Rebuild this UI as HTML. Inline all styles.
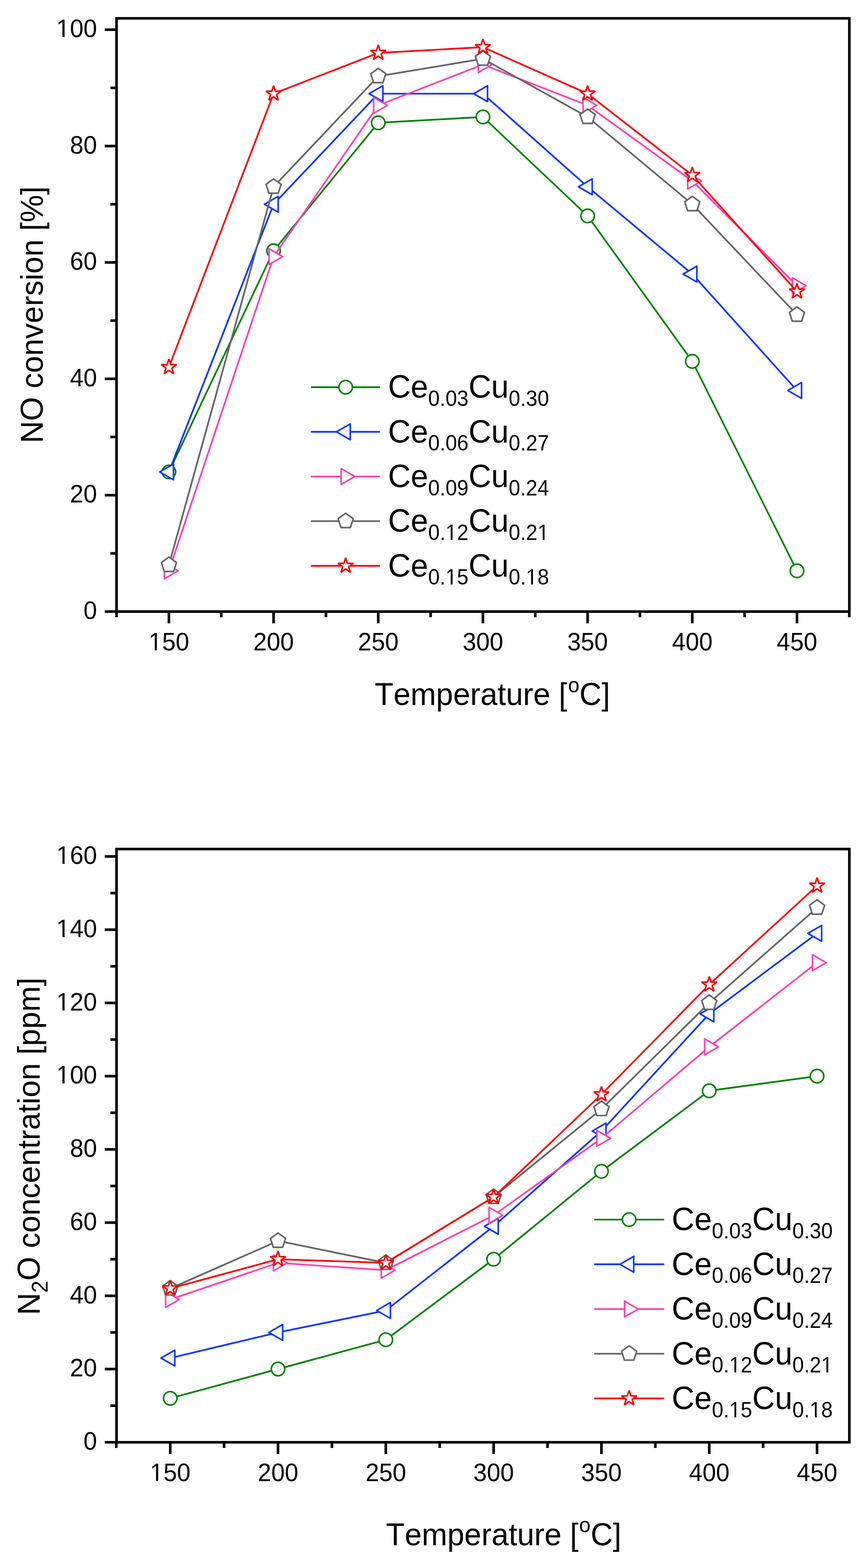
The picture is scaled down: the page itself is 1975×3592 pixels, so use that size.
<!DOCTYPE html>
<html><head><meta charset="utf-8"><title>NO conversion and N2O concentration</title>
<style>html,body{margin:0;padding:0;background:#fff;}svg{display:block;}text{font-kerning:none;font-feature-settings:'kern' 0;}</style></head>
<body>
<svg width="1975" height="3592" viewBox="0 0 1975 3592" font-family="'Liberation Sans', Arial, sans-serif" fill="#000">
<rect width="1975" height="3592" fill="#fff"/>
<polyline points="387.00,1081.08 626.83,574.54 866.67,281.28 1106.50,267.95 1346.33,494.56 1586.17,827.81 1826.00,1307.69" fill="none" stroke="#008000" stroke-width="3.9" stroke-linejoin="round" stroke-linecap="round"/>
<circle cx="387.00" cy="1081.08" r="15.4" fill="#fff" stroke="#008000" stroke-width="3.6" stroke-linejoin="miter"/>
<circle cx="626.83" cy="574.54" r="15.4" fill="#fff" stroke="#008000" stroke-width="3.6" stroke-linejoin="miter"/>
<circle cx="866.67" cy="281.28" r="15.4" fill="#fff" stroke="#008000" stroke-width="3.6" stroke-linejoin="miter"/>
<circle cx="1106.50" cy="267.95" r="15.4" fill="#fff" stroke="#008000" stroke-width="3.6" stroke-linejoin="miter"/>
<circle cx="1346.33" cy="494.56" r="15.4" fill="#fff" stroke="#008000" stroke-width="3.6" stroke-linejoin="miter"/>
<circle cx="1586.17" cy="827.81" r="15.4" fill="#fff" stroke="#008000" stroke-width="3.6" stroke-linejoin="miter"/>
<circle cx="1826.00" cy="1307.69" r="15.4" fill="#fff" stroke="#008000" stroke-width="3.6" stroke-linejoin="miter"/>
<polyline points="387.00,1081.08 626.83,467.90 866.67,214.63 1106.50,214.63 1346.33,427.91 1586.17,627.86 1826.00,894.46" fill="none" stroke="#0A34FF" stroke-width="3.9" stroke-linejoin="round" stroke-linecap="round"/>
<polygon points="366.00,1081.08 397.50,1062.89 397.50,1099.27" fill="#fff" stroke="#0A34FF" stroke-width="3.6" stroke-linejoin="round"/>
<polygon points="605.83,467.90 637.33,449.71 637.33,486.09" fill="#fff" stroke="#0A34FF" stroke-width="3.6" stroke-linejoin="round"/>
<polygon points="845.67,214.63 877.17,196.44 877.17,232.82" fill="#fff" stroke="#0A34FF" stroke-width="3.6" stroke-linejoin="round"/>
<polygon points="1085.50,214.63 1117.00,196.44 1117.00,232.82" fill="#fff" stroke="#0A34FF" stroke-width="3.6" stroke-linejoin="round"/>
<polygon points="1325.33,427.91 1356.83,409.72 1356.83,446.10" fill="#fff" stroke="#0A34FF" stroke-width="3.6" stroke-linejoin="round"/>
<polygon points="1565.17,627.86 1596.67,609.67 1596.67,646.05" fill="#fff" stroke="#0A34FF" stroke-width="3.6" stroke-linejoin="round"/>
<polygon points="1805.00,894.46 1836.50,876.27 1836.50,912.65" fill="#fff" stroke="#0A34FF" stroke-width="3.6" stroke-linejoin="round"/>
<polyline points="387.00,1307.69 626.83,587.87 866.67,241.29 1106.50,147.98 1346.33,241.29 1586.17,414.58 1826.00,654.52" fill="none" stroke="#FF40B0" stroke-width="3.9" stroke-linejoin="round" stroke-linecap="round"/>
<polygon points="408.00,1307.69 376.50,1289.50 376.50,1325.88" fill="#fff" stroke="#FF40B0" stroke-width="3.6" stroke-linejoin="round"/>
<polygon points="647.83,587.87 616.33,569.68 616.33,606.06" fill="#fff" stroke="#FF40B0" stroke-width="3.6" stroke-linejoin="round"/>
<polygon points="887.67,241.29 856.17,223.10 856.17,259.48" fill="#fff" stroke="#FF40B0" stroke-width="3.6" stroke-linejoin="round"/>
<polygon points="1127.50,147.98 1096.00,129.79 1096.00,166.17" fill="#fff" stroke="#FF40B0" stroke-width="3.6" stroke-linejoin="round"/>
<polygon points="1367.33,241.29 1335.83,223.10 1335.83,259.48" fill="#fff" stroke="#FF40B0" stroke-width="3.6" stroke-linejoin="round"/>
<polygon points="1607.17,414.58 1575.67,396.39 1575.67,432.77" fill="#fff" stroke="#FF40B0" stroke-width="3.6" stroke-linejoin="round"/>
<polygon points="1847.00,654.52 1815.50,636.33 1815.50,672.71" fill="#fff" stroke="#FF40B0" stroke-width="3.6" stroke-linejoin="round"/>
<polyline points="387.00,1294.36 626.83,427.91 866.67,174.64 1106.50,134.65 1346.33,267.95 1586.17,467.90 1826.00,721.17" fill="none" stroke="#646464" stroke-width="3.9" stroke-linejoin="round" stroke-linecap="round"/>
<polygon points="387.00,1276.16 404.31,1288.74 397.70,1309.08 376.30,1309.08 369.69,1288.74" fill="#fff" stroke="#646464" stroke-width="3.6" stroke-linejoin="round"/>
<polygon points="626.83,409.71 644.14,422.29 637.53,442.63 616.14,442.63 609.52,422.29" fill="#fff" stroke="#646464" stroke-width="3.6" stroke-linejoin="round"/>
<polygon points="866.67,156.44 883.98,169.02 877.36,189.36 855.97,189.36 849.36,169.02" fill="#fff" stroke="#646464" stroke-width="3.6" stroke-linejoin="round"/>
<polygon points="1106.50,116.45 1123.81,129.03 1117.20,149.37 1095.80,149.37 1089.19,129.03" fill="#fff" stroke="#646464" stroke-width="3.6" stroke-linejoin="round"/>
<polygon points="1346.33,249.75 1363.64,262.33 1357.03,282.67 1335.64,282.67 1329.02,262.33" fill="#fff" stroke="#646464" stroke-width="3.6" stroke-linejoin="round"/>
<polygon points="1586.17,449.70 1603.48,462.28 1596.86,482.62 1575.47,482.62 1568.86,462.28" fill="#fff" stroke="#646464" stroke-width="3.6" stroke-linejoin="round"/>
<polygon points="1826.00,702.97 1843.31,715.55 1836.70,735.89 1815.30,735.89 1808.69,715.55" fill="#fff" stroke="#646464" stroke-width="3.6" stroke-linejoin="round"/>
<polyline points="387.00,841.14 626.83,214.63 866.67,121.32 1106.50,107.99 1346.33,214.63 1586.17,401.25 1826.00,667.85" fill="none" stroke="#FF0000" stroke-width="3.9" stroke-linejoin="round" stroke-linecap="round"/>
<polygon points="387.00,822.64 391.15,835.42 404.59,835.42 393.72,843.32 397.87,856.11 387.00,848.21 376.13,856.11 380.28,843.32 369.41,835.42 382.85,835.42" fill="#fff" stroke="#FF0000" stroke-width="3.6" stroke-linejoin="bevel"/>
<polygon points="626.83,196.13 630.99,208.91 644.43,208.91 633.55,216.81 637.71,229.60 626.83,221.70 615.96,229.60 620.11,216.81 609.24,208.91 622.68,208.91" fill="#fff" stroke="#FF0000" stroke-width="3.6" stroke-linejoin="bevel"/>
<polygon points="866.67,102.82 870.82,115.60 884.26,115.60 873.39,123.50 877.54,136.29 866.67,128.39 855.79,136.29 859.95,123.50 849.07,115.60 862.51,115.60" fill="#fff" stroke="#FF0000" stroke-width="3.6" stroke-linejoin="bevel"/>
<polygon points="1106.50,89.49 1110.65,102.27 1124.09,102.27 1113.22,110.17 1117.37,122.96 1106.50,115.06 1095.63,122.96 1099.78,110.17 1088.91,102.27 1102.35,102.27" fill="#fff" stroke="#FF0000" stroke-width="3.6" stroke-linejoin="bevel"/>
<polygon points="1346.33,196.13 1350.49,208.91 1363.93,208.91 1353.05,216.81 1357.21,229.60 1346.33,221.70 1335.46,229.60 1339.61,216.81 1328.74,208.91 1342.18,208.91" fill="#fff" stroke="#FF0000" stroke-width="3.6" stroke-linejoin="bevel"/>
<polygon points="1586.17,382.75 1590.32,395.53 1603.76,395.53 1592.89,403.43 1597.04,416.22 1586.17,408.32 1575.29,416.22 1579.45,403.43 1568.57,395.53 1582.01,395.53" fill="#fff" stroke="#FF0000" stroke-width="3.6" stroke-linejoin="bevel"/>
<polygon points="1826.00,649.35 1830.15,662.13 1843.59,662.13 1832.72,670.03 1836.87,682.82 1826.00,674.92 1815.13,682.82 1819.28,670.03 1808.41,662.13 1821.85,662.13" fill="#fff" stroke="#FF0000" stroke-width="3.6" stroke-linejoin="bevel"/>
<rect x="267" y="42" width="1679" height="1359" fill="none" stroke="#000" stroke-width="6" stroke-linejoin="miter"/>
<line x1="240.0" y1="1401.00" x2="267" y2="1401.00" stroke="#000" stroke-width="6"/>
<g transform="translate(222.2,1418.00) scale(1,1.035)"><text text-anchor="end" font-size="55.8">0</text></g>
<line x1="240.0" y1="1134.40" x2="267" y2="1134.40" stroke="#000" stroke-width="6"/>
<g transform="translate(222.2,1151.40) scale(1,1.035)"><text text-anchor="end" font-size="55.8">20</text></g>
<line x1="240.0" y1="867.80" x2="267" y2="867.80" stroke="#000" stroke-width="6"/>
<g transform="translate(222.2,884.80) scale(1,1.035)"><text text-anchor="end" font-size="55.8">40</text></g>
<line x1="240.0" y1="601.20" x2="267" y2="601.20" stroke="#000" stroke-width="6"/>
<g transform="translate(222.2,618.20) scale(1,1.035)"><text text-anchor="end" font-size="55.8">60</text></g>
<line x1="240.0" y1="334.60" x2="267" y2="334.60" stroke="#000" stroke-width="6"/>
<g transform="translate(222.2,351.60) scale(1,1.035)"><text text-anchor="end" font-size="55.8">80</text></g>
<line x1="240.0" y1="68.00" x2="267" y2="68.00" stroke="#000" stroke-width="6"/>
<g transform="translate(222.2,85.00) scale(1,1.035)"><text text-anchor="end" font-size="55.8">100</text><rect x="-90.02" y="-4.87" width="11.03" height="6.47" fill="#fff"/><rect x="-74.16" y="-4.87" width="10.60" height="6.47" fill="#fff"/></g>
<line x1="253.0" y1="1267.70" x2="267" y2="1267.70" stroke="#000" stroke-width="6"/>
<line x1="253.0" y1="1001.10" x2="267" y2="1001.10" stroke="#000" stroke-width="6"/>
<line x1="253.0" y1="734.50" x2="267" y2="734.50" stroke="#000" stroke-width="6"/>
<line x1="253.0" y1="467.90" x2="267" y2="467.90" stroke="#000" stroke-width="6"/>
<line x1="253.0" y1="201.30" x2="267" y2="201.30" stroke="#000" stroke-width="6"/>
<line x1="387.00" y1="1401" x2="387.00" y2="1428.0" stroke="#000" stroke-width="6"/>
<g transform="translate(387.00,1490.00) scale(1,1.035)"><text text-anchor="middle" font-size="55.8">150</text><rect x="-43.49" y="-4.87" width="11.03" height="6.47" fill="#fff"/><rect x="-27.62" y="-4.87" width="10.60" height="6.47" fill="#fff"/></g>
<line x1="626.83" y1="1401" x2="626.83" y2="1428.0" stroke="#000" stroke-width="6"/>
<g transform="translate(626.83,1490.00) scale(1,1.035)"><text text-anchor="middle" font-size="55.8">200</text></g>
<line x1="866.67" y1="1401" x2="866.67" y2="1428.0" stroke="#000" stroke-width="6"/>
<g transform="translate(866.67,1490.00) scale(1,1.035)"><text text-anchor="middle" font-size="55.8">250</text></g>
<line x1="1106.50" y1="1401" x2="1106.50" y2="1428.0" stroke="#000" stroke-width="6"/>
<g transform="translate(1106.50,1490.00) scale(1,1.035)"><text text-anchor="middle" font-size="55.8">300</text></g>
<line x1="1346.33" y1="1401" x2="1346.33" y2="1428.0" stroke="#000" stroke-width="6"/>
<g transform="translate(1346.33,1490.00) scale(1,1.035)"><text text-anchor="middle" font-size="55.8">350</text></g>
<line x1="1586.17" y1="1401" x2="1586.17" y2="1428.0" stroke="#000" stroke-width="6"/>
<g transform="translate(1586.17,1490.00) scale(1,1.035)"><text text-anchor="middle" font-size="55.8">400</text></g>
<line x1="1826.00" y1="1401" x2="1826.00" y2="1428.0" stroke="#000" stroke-width="6"/>
<g transform="translate(1826.00,1490.00) scale(1,1.035)"><text text-anchor="middle" font-size="55.8">450</text></g>
<line x1="267.08" y1="1401" x2="267.08" y2="1414.0" stroke="#000" stroke-width="6"/>
<line x1="506.92" y1="1401" x2="506.92" y2="1414.0" stroke="#000" stroke-width="6"/>
<line x1="746.75" y1="1401" x2="746.75" y2="1414.0" stroke="#000" stroke-width="6"/>
<line x1="986.58" y1="1401" x2="986.58" y2="1414.0" stroke="#000" stroke-width="6"/>
<line x1="1226.42" y1="1401" x2="1226.42" y2="1414.0" stroke="#000" stroke-width="6"/>
<line x1="1466.25" y1="1401" x2="1466.25" y2="1414.0" stroke="#000" stroke-width="6"/>
<line x1="1706.08" y1="1401" x2="1706.08" y2="1414.0" stroke="#000" stroke-width="6"/>
<line x1="1945.92" y1="1401" x2="1945.92" y2="1414.0" stroke="#000" stroke-width="6"/>
<text transform="translate(858.5,1615) scale(1,1.04)" font-size="70.3">Temperature [<tspan font-size="47" dx="1.5" dy="-28">o</tspan><tspan dy="28">C]</tspan></text>
<text transform="translate(98,721) rotate(-90) scale(1,1.035)" text-anchor="middle" font-size="70.6">NO conversion [%]</text>
<line x1="713.9" y1="887.00" x2="869.1" y2="887.00" stroke="#008000" stroke-width="3.9" stroke-linecap="round"/>
<circle cx="792.00" cy="887.00" r="15.4" fill="#fff" stroke="#008000" stroke-width="3.6" stroke-linejoin="miter"/>
<g transform="translate(889,911.40) scale(1,1.04)"><text font-size="72">Ce<tspan font-size="47.5" dy="18">0.03</tspan><tspan dy="-18">Cu</tspan><tspan font-size="47.5" dy="18">0.30</tspan></text></g>
<line x1="713.9" y1="989.30" x2="869.1" y2="989.30" stroke="#0A34FF" stroke-width="3.9" stroke-linecap="round"/>
<polygon points="771.00,989.30 802.50,971.11 802.50,1007.49" fill="#fff" stroke="#0A34FF" stroke-width="3.6" stroke-linejoin="round"/>
<g transform="translate(889,1013.70) scale(1,1.04)"><text font-size="72">Ce<tspan font-size="47.5" dy="18">0.06</tspan><tspan dy="-18">Cu</tspan><tspan font-size="47.5" dy="18">0.27</tspan></text></g>
<line x1="713.9" y1="1091.60" x2="869.1" y2="1091.60" stroke="#FF40B0" stroke-width="3.9" stroke-linecap="round"/>
<polygon points="813.00,1091.60 781.50,1073.41 781.50,1109.79" fill="#fff" stroke="#FF40B0" stroke-width="3.6" stroke-linejoin="round"/>
<g transform="translate(889,1116.00) scale(1,1.04)"><text font-size="72">Ce<tspan font-size="47.5" dy="18">0.09</tspan><tspan dy="-18">Cu</tspan><tspan font-size="47.5" dy="18">0.24</tspan></text></g>
<line x1="713.9" y1="1193.90" x2="869.1" y2="1193.90" stroke="#646464" stroke-width="3.9" stroke-linecap="round"/>
<polygon points="792.00,1175.70 809.31,1188.28 802.70,1208.62 781.30,1208.62 774.69,1188.28" fill="#fff" stroke="#646464" stroke-width="3.6" stroke-linejoin="round"/>
<g transform="translate(889,1218.30) scale(1,1.04)"><text font-size="72">Ce<tspan font-size="47.5" dy="18">0.12</tspan><tspan dy="-18">Cu</tspan><tspan font-size="47.5" dy="18">0.21</tspan></text><rect x="134.05" y="13.75" width="9.58" height="5.85" fill="#fff"/><rect x="147.72" y="13.75" width="9.21" height="5.85" fill="#fff"/><rect x="344.91" y="13.75" width="9.58" height="5.85" fill="#fff"/><rect x="358.58" y="13.75" width="9.21" height="5.85" fill="#fff"/></g>
<line x1="713.9" y1="1296.20" x2="869.1" y2="1296.20" stroke="#FF0000" stroke-width="3.9" stroke-linecap="round"/>
<polygon points="792.00,1277.70 796.15,1290.48 809.59,1290.48 798.72,1298.38 802.87,1311.17 792.00,1303.27 781.13,1311.17 785.28,1298.38 774.41,1290.48 787.85,1290.48" fill="#fff" stroke="#FF0000" stroke-width="3.6" stroke-linejoin="bevel"/>
<g transform="translate(889,1320.60) scale(1,1.04)"><text font-size="72">Ce<tspan font-size="47.5" dy="18">0.15</tspan><tspan dy="-18">Cu</tspan><tspan font-size="47.5" dy="18">0.18</tspan></text><rect x="134.05" y="13.75" width="9.58" height="5.85" fill="#fff"/><rect x="147.72" y="13.75" width="9.21" height="5.85" fill="#fff"/><rect x="318.50" y="13.75" width="9.58" height="5.85" fill="#fff"/><rect x="332.17" y="13.75" width="9.21" height="5.85" fill="#fff"/></g>
<polyline points="390.00,3203.35 637.00,3136.25 884.00,3069.15 1131.00,2884.62 1378.00,2683.32 1625.00,2498.80 1872.00,2465.25" fill="none" stroke="#008000" stroke-width="3.9" stroke-linejoin="round" stroke-linecap="round"/>
<circle cx="390.00" cy="3203.35" r="15.4" fill="#fff" stroke="#008000" stroke-width="3.6" stroke-linejoin="miter"/>
<circle cx="637.00" cy="3136.25" r="15.4" fill="#fff" stroke="#008000" stroke-width="3.6" stroke-linejoin="miter"/>
<circle cx="884.00" cy="3069.15" r="15.4" fill="#fff" stroke="#008000" stroke-width="3.6" stroke-linejoin="miter"/>
<circle cx="1131.00" cy="2884.62" r="15.4" fill="#fff" stroke="#008000" stroke-width="3.6" stroke-linejoin="miter"/>
<circle cx="1378.00" cy="2683.32" r="15.4" fill="#fff" stroke="#008000" stroke-width="3.6" stroke-linejoin="miter"/>
<circle cx="1625.00" cy="2498.80" r="15.4" fill="#fff" stroke="#008000" stroke-width="3.6" stroke-linejoin="miter"/>
<circle cx="1872.00" cy="2465.25" r="15.4" fill="#fff" stroke="#008000" stroke-width="3.6" stroke-linejoin="miter"/>
<polyline points="390.00,3111.09 637.00,3052.38 884.00,3002.05 1131.00,2809.14 1378.00,2591.06 1625.00,2322.66 1872.00,2138.14" fill="none" stroke="#0A34FF" stroke-width="3.9" stroke-linejoin="round" stroke-linecap="round"/>
<polygon points="369.00,3111.09 400.50,3092.90 400.50,3129.27" fill="#fff" stroke="#0A34FF" stroke-width="3.6" stroke-linejoin="round"/>
<polygon points="616.00,3052.38 647.50,3034.19 647.50,3070.56" fill="#fff" stroke="#0A34FF" stroke-width="3.6" stroke-linejoin="round"/>
<polygon points="863.00,3002.05 894.50,2983.86 894.50,3020.24" fill="#fff" stroke="#0A34FF" stroke-width="3.6" stroke-linejoin="round"/>
<polygon points="1110.00,2809.14 1141.50,2790.95 1141.50,2827.32" fill="#fff" stroke="#0A34FF" stroke-width="3.6" stroke-linejoin="round"/>
<polygon points="1357.00,2591.06 1388.50,2572.88 1388.50,2609.25" fill="#fff" stroke="#0A34FF" stroke-width="3.6" stroke-linejoin="round"/>
<polygon points="1604.00,2322.66 1635.50,2304.48 1635.50,2340.85" fill="#fff" stroke="#0A34FF" stroke-width="3.6" stroke-linejoin="round"/>
<polygon points="1851.00,2138.14 1882.50,2119.95 1882.50,2156.32" fill="#fff" stroke="#0A34FF" stroke-width="3.6" stroke-linejoin="round"/>
<polyline points="390.00,2976.89 637.00,2893.01 884.00,2909.79 1131.00,2783.97 1378.00,2607.84 1625.00,2398.15 1872.00,2205.24" fill="none" stroke="#FF40B0" stroke-width="3.9" stroke-linejoin="round" stroke-linecap="round"/>
<polygon points="411.00,2976.89 379.50,2958.70 379.50,2995.07" fill="#fff" stroke="#FF40B0" stroke-width="3.6" stroke-linejoin="round"/>
<polygon points="658.00,2893.01 626.50,2874.83 626.50,2911.20" fill="#fff" stroke="#FF40B0" stroke-width="3.6" stroke-linejoin="round"/>
<polygon points="905.00,2909.79 873.50,2891.60 873.50,2927.97" fill="#fff" stroke="#FF40B0" stroke-width="3.6" stroke-linejoin="round"/>
<polygon points="1152.00,2783.97 1120.50,2765.79 1120.50,2802.16" fill="#fff" stroke="#FF40B0" stroke-width="3.6" stroke-linejoin="round"/>
<polygon points="1399.00,2607.84 1367.50,2589.65 1367.50,2626.02" fill="#fff" stroke="#FF40B0" stroke-width="3.6" stroke-linejoin="round"/>
<polygon points="1646.00,2398.15 1614.50,2379.96 1614.50,2416.34" fill="#fff" stroke="#FF40B0" stroke-width="3.6" stroke-linejoin="round"/>
<polygon points="1893.00,2205.24 1861.50,2187.05 1861.50,2223.42" fill="#fff" stroke="#FF40B0" stroke-width="3.6" stroke-linejoin="round"/>
<polyline points="390.00,2951.72 637.00,2842.69 884.00,2893.01 1131.00,2742.04 1378.00,2540.74 1625.00,2297.50 1872.00,2079.43" fill="none" stroke="#646464" stroke-width="3.9" stroke-linejoin="round" stroke-linecap="round"/>
<polygon points="390.00,2933.53 407.31,2946.10 400.70,2966.45 379.30,2966.45 372.69,2946.10" fill="#fff" stroke="#646464" stroke-width="3.6" stroke-linejoin="round"/>
<polygon points="637.00,2824.49 654.31,2837.06 647.70,2857.41 626.30,2857.41 619.69,2837.06" fill="#fff" stroke="#646464" stroke-width="3.6" stroke-linejoin="round"/>
<polygon points="884.00,2874.81 901.31,2887.39 894.70,2907.74 873.30,2907.74 866.69,2887.39" fill="#fff" stroke="#646464" stroke-width="3.6" stroke-linejoin="round"/>
<polygon points="1131.00,2723.84 1148.31,2736.41 1141.70,2756.76 1120.30,2756.76 1113.69,2736.41" fill="#fff" stroke="#646464" stroke-width="3.6" stroke-linejoin="round"/>
<polygon points="1378.00,2522.54 1395.31,2535.11 1388.70,2555.46 1367.30,2555.46 1360.69,2535.11" fill="#fff" stroke="#646464" stroke-width="3.6" stroke-linejoin="round"/>
<polygon points="1625.00,2279.30 1642.31,2291.88 1635.70,2312.22 1614.30,2312.22 1607.69,2291.88" fill="#fff" stroke="#646464" stroke-width="3.6" stroke-linejoin="round"/>
<polygon points="1872.00,2061.23 1889.31,2073.80 1882.70,2094.15 1861.30,2094.15 1854.69,2073.80" fill="#fff" stroke="#646464" stroke-width="3.6" stroke-linejoin="round"/>
<polyline points="390.00,2951.72 637.00,2884.62 884.00,2893.01 1131.00,2742.04 1378.00,2507.19 1625.00,2255.56 1872.00,2029.10" fill="none" stroke="#FF0000" stroke-width="3.9" stroke-linejoin="round" stroke-linecap="round"/>
<polygon points="390.00,2933.22 394.15,2946.01 407.59,2946.01 396.72,2953.91 400.87,2966.69 390.00,2958.79 379.13,2966.69 383.28,2953.91 372.41,2946.01 385.85,2946.01" fill="#fff" stroke="#FF0000" stroke-width="3.6" stroke-linejoin="bevel"/>
<polygon points="637.00,2866.12 641.15,2878.91 654.59,2878.91 643.72,2886.81 647.87,2899.59 637.00,2891.69 626.13,2899.59 630.28,2886.81 619.41,2878.91 632.85,2878.91" fill="#fff" stroke="#FF0000" stroke-width="3.6" stroke-linejoin="bevel"/>
<polygon points="884.00,2874.51 888.15,2887.30 901.59,2887.30 890.72,2895.20 894.87,2907.98 884.00,2900.08 873.13,2907.98 877.28,2895.20 866.41,2887.30 879.85,2887.30" fill="#fff" stroke="#FF0000" stroke-width="3.6" stroke-linejoin="bevel"/>
<polygon points="1131.00,2723.54 1135.15,2736.32 1148.59,2736.32 1137.72,2744.22 1141.87,2757.00 1131.00,2749.10 1120.13,2757.00 1124.28,2744.22 1113.41,2736.32 1126.85,2736.32" fill="#fff" stroke="#FF0000" stroke-width="3.6" stroke-linejoin="bevel"/>
<polygon points="1378.00,2488.69 1382.15,2501.47 1395.59,2501.47 1384.72,2509.37 1388.87,2522.15 1378.00,2514.25 1367.13,2522.15 1371.28,2509.37 1360.41,2501.47 1373.85,2501.47" fill="#fff" stroke="#FF0000" stroke-width="3.6" stroke-linejoin="bevel"/>
<polygon points="1625.00,2237.06 1629.15,2249.85 1642.59,2249.85 1631.72,2257.75 1635.87,2270.53 1625.00,2262.63 1614.13,2270.53 1618.28,2257.75 1607.41,2249.85 1620.85,2249.85" fill="#fff" stroke="#FF0000" stroke-width="3.6" stroke-linejoin="bevel"/>
<polygon points="1872.00,2010.60 1876.15,2023.38 1889.59,2023.38 1878.72,2031.28 1882.87,2044.07 1872.00,2036.17 1861.13,2044.07 1865.28,2031.28 1854.41,2023.38 1867.85,2023.38" fill="#fff" stroke="#FF0000" stroke-width="3.6" stroke-linejoin="bevel"/>
<rect x="267" y="1945" width="1679" height="1359" fill="none" stroke="#000" stroke-width="6" stroke-linejoin="miter"/>
<line x1="240.0" y1="3304.00" x2="267" y2="3304.00" stroke="#000" stroke-width="6"/>
<g transform="translate(222.2,3321.00) scale(1,1.035)"><text text-anchor="end" font-size="55.8">0</text></g>
<line x1="240.0" y1="3136.25" x2="267" y2="3136.25" stroke="#000" stroke-width="6"/>
<g transform="translate(222.2,3153.25) scale(1,1.035)"><text text-anchor="end" font-size="55.8">20</text></g>
<line x1="240.0" y1="2968.50" x2="267" y2="2968.50" stroke="#000" stroke-width="6"/>
<g transform="translate(222.2,2985.50) scale(1,1.035)"><text text-anchor="end" font-size="55.8">40</text></g>
<line x1="240.0" y1="2800.75" x2="267" y2="2800.75" stroke="#000" stroke-width="6"/>
<g transform="translate(222.2,2817.75) scale(1,1.035)"><text text-anchor="end" font-size="55.8">60</text></g>
<line x1="240.0" y1="2633.00" x2="267" y2="2633.00" stroke="#000" stroke-width="6"/>
<g transform="translate(222.2,2650.00) scale(1,1.035)"><text text-anchor="end" font-size="55.8">80</text></g>
<line x1="240.0" y1="2465.25" x2="267" y2="2465.25" stroke="#000" stroke-width="6"/>
<g transform="translate(222.2,2482.25) scale(1,1.035)"><text text-anchor="end" font-size="55.8">100</text><rect x="-90.02" y="-4.87" width="11.03" height="6.47" fill="#fff"/><rect x="-74.16" y="-4.87" width="10.60" height="6.47" fill="#fff"/></g>
<line x1="240.0" y1="2297.50" x2="267" y2="2297.50" stroke="#000" stroke-width="6"/>
<g transform="translate(222.2,2314.50) scale(1,1.035)"><text text-anchor="end" font-size="55.8">120</text><rect x="-90.02" y="-4.87" width="11.03" height="6.47" fill="#fff"/><rect x="-74.16" y="-4.87" width="10.60" height="6.47" fill="#fff"/></g>
<line x1="240.0" y1="2129.75" x2="267" y2="2129.75" stroke="#000" stroke-width="6"/>
<g transform="translate(222.2,2146.75) scale(1,1.035)"><text text-anchor="end" font-size="55.8">140</text><rect x="-90.02" y="-4.87" width="11.03" height="6.47" fill="#fff"/><rect x="-74.16" y="-4.87" width="10.60" height="6.47" fill="#fff"/></g>
<line x1="240.0" y1="1962.00" x2="267" y2="1962.00" stroke="#000" stroke-width="6"/>
<g transform="translate(222.2,1979.00) scale(1,1.035)"><text text-anchor="end" font-size="55.8">160</text><rect x="-90.02" y="-4.87" width="11.03" height="6.47" fill="#fff"/><rect x="-74.16" y="-4.87" width="10.60" height="6.47" fill="#fff"/></g>
<line x1="253.0" y1="3220.12" x2="267" y2="3220.12" stroke="#000" stroke-width="6"/>
<line x1="253.0" y1="3052.38" x2="267" y2="3052.38" stroke="#000" stroke-width="6"/>
<line x1="253.0" y1="2884.62" x2="267" y2="2884.62" stroke="#000" stroke-width="6"/>
<line x1="253.0" y1="2716.88" x2="267" y2="2716.88" stroke="#000" stroke-width="6"/>
<line x1="253.0" y1="2549.12" x2="267" y2="2549.12" stroke="#000" stroke-width="6"/>
<line x1="253.0" y1="2381.38" x2="267" y2="2381.38" stroke="#000" stroke-width="6"/>
<line x1="253.0" y1="2213.62" x2="267" y2="2213.62" stroke="#000" stroke-width="6"/>
<line x1="253.0" y1="2045.88" x2="267" y2="2045.88" stroke="#000" stroke-width="6"/>
<line x1="390.00" y1="3304" x2="390.00" y2="3331.0" stroke="#000" stroke-width="6"/>
<g transform="translate(390.00,3393.00) scale(1,1.035)"><text text-anchor="middle" font-size="55.8">150</text><rect x="-43.49" y="-4.87" width="11.03" height="6.47" fill="#fff"/><rect x="-27.62" y="-4.87" width="10.60" height="6.47" fill="#fff"/></g>
<line x1="637.00" y1="3304" x2="637.00" y2="3331.0" stroke="#000" stroke-width="6"/>
<g transform="translate(637.00,3393.00) scale(1,1.035)"><text text-anchor="middle" font-size="55.8">200</text></g>
<line x1="884.00" y1="3304" x2="884.00" y2="3331.0" stroke="#000" stroke-width="6"/>
<g transform="translate(884.00,3393.00) scale(1,1.035)"><text text-anchor="middle" font-size="55.8">250</text></g>
<line x1="1131.00" y1="3304" x2="1131.00" y2="3331.0" stroke="#000" stroke-width="6"/>
<g transform="translate(1131.00,3393.00) scale(1,1.035)"><text text-anchor="middle" font-size="55.8">300</text></g>
<line x1="1378.00" y1="3304" x2="1378.00" y2="3331.0" stroke="#000" stroke-width="6"/>
<g transform="translate(1378.00,3393.00) scale(1,1.035)"><text text-anchor="middle" font-size="55.8">350</text></g>
<line x1="1625.00" y1="3304" x2="1625.00" y2="3331.0" stroke="#000" stroke-width="6"/>
<g transform="translate(1625.00,3393.00) scale(1,1.035)"><text text-anchor="middle" font-size="55.8">400</text></g>
<line x1="1872.00" y1="3304" x2="1872.00" y2="3331.0" stroke="#000" stroke-width="6"/>
<g transform="translate(1872.00,3393.00) scale(1,1.035)"><text text-anchor="middle" font-size="55.8">450</text></g>
<line x1="266.50" y1="3304" x2="266.50" y2="3317.0" stroke="#000" stroke-width="6"/>
<line x1="513.50" y1="3304" x2="513.50" y2="3317.0" stroke="#000" stroke-width="6"/>
<line x1="760.50" y1="3304" x2="760.50" y2="3317.0" stroke="#000" stroke-width="6"/>
<line x1="1007.50" y1="3304" x2="1007.50" y2="3317.0" stroke="#000" stroke-width="6"/>
<line x1="1254.50" y1="3304" x2="1254.50" y2="3317.0" stroke="#000" stroke-width="6"/>
<line x1="1501.50" y1="3304" x2="1501.50" y2="3317.0" stroke="#000" stroke-width="6"/>
<line x1="1748.50" y1="3304" x2="1748.50" y2="3317.0" stroke="#000" stroke-width="6"/>
<text transform="translate(884.2,3539.5) scale(1,1.04)" font-size="70.3">Temperature [<tspan font-size="47" dx="1.5" dy="-28">o</tspan><tspan dy="28">C]</tspan></text>
<text transform="translate(91,2626) rotate(-90) scale(1,1.035)" text-anchor="middle" font-size="70.6">N<tspan font-size="50" dy="17">2</tspan><tspan dy="-17">O concentration [ppm]</tspan></text>
<line x1="1362.9" y1="2793.90" x2="1520.1" y2="2793.90" stroke="#008000" stroke-width="3.9" stroke-linecap="round"/>
<circle cx="1441.50" cy="2793.90" r="15.4" fill="#fff" stroke="#008000" stroke-width="3.6" stroke-linejoin="miter"/>
<g transform="translate(1539,2818.30) scale(1,1.04)"><text font-size="72">Ce<tspan font-size="47.5" dy="18">0.03</tspan><tspan dy="-18">Cu</tspan><tspan font-size="47.5" dy="18">0.30</tspan></text></g>
<line x1="1362.9" y1="2896.30" x2="1520.1" y2="2896.30" stroke="#0A34FF" stroke-width="3.9" stroke-linecap="round"/>
<polygon points="1420.50,2896.30 1452.00,2878.11 1452.00,2914.49" fill="#fff" stroke="#0A34FF" stroke-width="3.6" stroke-linejoin="round"/>
<g transform="translate(1539,2920.70) scale(1,1.04)"><text font-size="72">Ce<tspan font-size="47.5" dy="18">0.06</tspan><tspan dy="-18">Cu</tspan><tspan font-size="47.5" dy="18">0.27</tspan></text></g>
<line x1="1362.9" y1="2998.70" x2="1520.1" y2="2998.70" stroke="#FF40B0" stroke-width="3.9" stroke-linecap="round"/>
<polygon points="1462.50,2998.70 1431.00,2980.51 1431.00,3016.89" fill="#fff" stroke="#FF40B0" stroke-width="3.6" stroke-linejoin="round"/>
<g transform="translate(1539,3023.10) scale(1,1.04)"><text font-size="72">Ce<tspan font-size="47.5" dy="18">0.09</tspan><tspan dy="-18">Cu</tspan><tspan font-size="47.5" dy="18">0.24</tspan></text></g>
<line x1="1362.9" y1="3101.10" x2="1520.1" y2="3101.10" stroke="#646464" stroke-width="3.9" stroke-linecap="round"/>
<polygon points="1441.50,3082.90 1458.81,3095.48 1452.20,3115.82 1430.80,3115.82 1424.19,3095.48" fill="#fff" stroke="#646464" stroke-width="3.6" stroke-linejoin="round"/>
<g transform="translate(1539,3125.50) scale(1,1.04)"><text font-size="72">Ce<tspan font-size="47.5" dy="18">0.12</tspan><tspan dy="-18">Cu</tspan><tspan font-size="47.5" dy="18">0.21</tspan></text><rect x="134.05" y="13.75" width="9.58" height="5.85" fill="#fff"/><rect x="147.72" y="13.75" width="9.21" height="5.85" fill="#fff"/><rect x="344.91" y="13.75" width="9.58" height="5.85" fill="#fff"/><rect x="358.58" y="13.75" width="9.21" height="5.85" fill="#fff"/></g>
<line x1="1362.9" y1="3203.50" x2="1520.1" y2="3203.50" stroke="#FF0000" stroke-width="3.9" stroke-linecap="round"/>
<polygon points="1441.50,3185.00 1445.65,3197.78 1459.09,3197.78 1448.22,3205.68 1452.37,3218.47 1441.50,3210.57 1430.63,3218.47 1434.78,3205.68 1423.91,3197.78 1437.35,3197.78" fill="#fff" stroke="#FF0000" stroke-width="3.6" stroke-linejoin="bevel"/>
<g transform="translate(1539,3227.90) scale(1,1.04)"><text font-size="72">Ce<tspan font-size="47.5" dy="18">0.15</tspan><tspan dy="-18">Cu</tspan><tspan font-size="47.5" dy="18">0.18</tspan></text><rect x="134.05" y="13.75" width="9.58" height="5.85" fill="#fff"/><rect x="147.72" y="13.75" width="9.21" height="5.85" fill="#fff"/><rect x="318.50" y="13.75" width="9.58" height="5.85" fill="#fff"/><rect x="332.17" y="13.75" width="9.21" height="5.85" fill="#fff"/></g>
</svg>
</body></html>
